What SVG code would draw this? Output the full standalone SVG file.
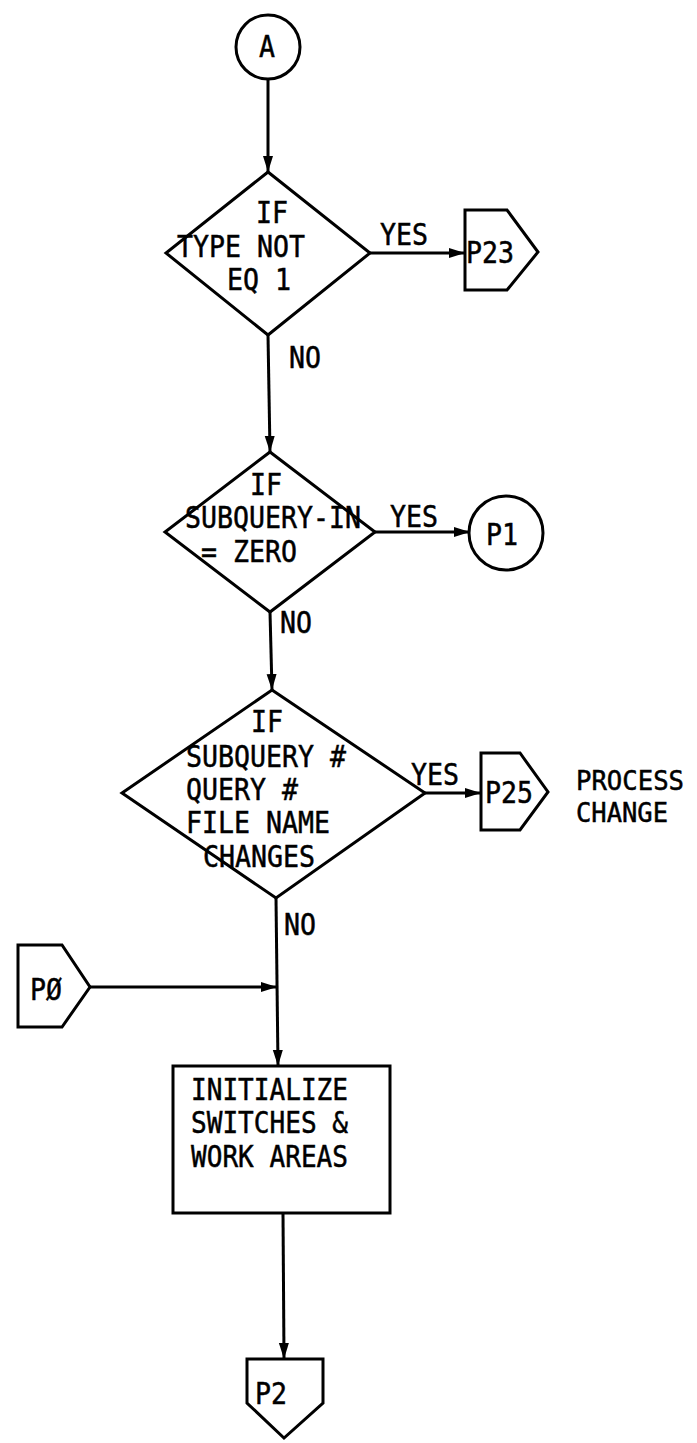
<svg xmlns="http://www.w3.org/2000/svg" width="697" height="1443" viewBox="0 0 697 1443">
<defs>
<marker id="arr" markerUnits="userSpaceOnUse" markerWidth="18" markerHeight="12" refX="16" refY="6" orient="auto">
<path d="M0,1 L16,6 L0,11 z" fill="#000"/>
</marker>
<style>
.s{fill:none;stroke:#000;stroke-width:3;stroke-linejoin:miter}
.c{fill:none;stroke:#000;stroke-width:3}
.t{font-family:"DejaVu Sans Mono","Liberation Mono",monospace;font-size:30px;fill:#000;stroke:#000;stroke-width:0.5}
.n{font-size:27px}
</style>
</defs>
<rect width="697" height="1443" fill="#fff"/>
<g id="connectors">
<line class="c" x1="268" y1="79" x2="268" y2="172" marker-end="url(#arr)"/>
<line class="c" x1="370" y1="253" x2="465" y2="253" marker-end="url(#arr)"/>
<line class="c" x1="268" y1="335" x2="270" y2="452" marker-end="url(#arr)"/>
<line class="c" x1="375" y1="532" x2="470" y2="532" marker-end="url(#arr)"/>
<line class="c" x1="270" y1="612" x2="272" y2="690" marker-end="url(#arr)"/>
<line class="c" x1="425" y1="793" x2="481" y2="793" marker-end="url(#arr)"/>
<line class="c" x1="276" y1="898" x2="278" y2="1066" marker-end="url(#arr)"/>
<line class="c" x1="90" y1="987" x2="277" y2="987" marker-end="url(#arr)"/>
<line class="c" x1="283" y1="1213" x2="284" y2="1359" marker-end="url(#arr)"/>
<text class="t" x="380" y="245" textLength="48" lengthAdjust="spacingAndGlyphs">YES</text>
<text class="t" x="289" y="368" textLength="32" lengthAdjust="spacingAndGlyphs">NO</text>
<text class="t" x="390" y="527" textLength="48" lengthAdjust="spacingAndGlyphs">YES</text>
<text class="t" x="280" y="633" textLength="32" lengthAdjust="spacingAndGlyphs">NO</text>
<text class="t" x="411" y="785" textLength="48" lengthAdjust="spacingAndGlyphs">YES</text>
<text class="t" x="284" y="935" textLength="32" lengthAdjust="spacingAndGlyphs">NO</text>
</g>
<g id="nodeA">
<circle class="s" cx="268" cy="47" r="32"/>
<text class="t" x="259" y="57" textLength="16" lengthAdjust="spacingAndGlyphs">A</text>
</g>
<g id="decision1">
<polygon class="s" points="268,172 370,253 268,335 166,253"/>
<text class="t" x="256" y="223" textLength="32" lengthAdjust="spacingAndGlyphs">IF</text>
<text class="t" x="177" y="257" textLength="128" lengthAdjust="spacingAndGlyphs">TYPE NOT</text>
<text class="t" x="227" y="290" textLength="64" lengthAdjust="spacingAndGlyphs">EQ 1</text>
</g>
<g id="P23">
<polygon class="s" points="465,210 507,210 538,252 507,290 465,290"/>
<text class="t" x="466" y="263" textLength="48" lengthAdjust="spacingAndGlyphs">P23</text>
</g>
<g id="decision2">
<polygon class="s" points="270,452 375,532 270,612 165,532"/>
<text class="t" x="250" y="495" textLength="32" lengthAdjust="spacingAndGlyphs">IF</text>
<text class="t" x="185" y="528" textLength="176" lengthAdjust="spacingAndGlyphs">SUBQUERY-IN</text>
<text class="t" x="201" y="562" textLength="96" lengthAdjust="spacingAndGlyphs">= ZERO</text>
</g>
<g id="P1">
<circle class="s" cx="506" cy="533" r="37"/>
<text class="t" x="486" y="545" textLength="32" lengthAdjust="spacingAndGlyphs">P1</text>
</g>
<g id="decision3">
<polygon class="s" points="272,690 425,793 276,898 122,793"/>
<text class="t" x="251" y="732" textLength="32" lengthAdjust="spacingAndGlyphs">IF</text>
<text class="t" x="186" y="767" textLength="160" lengthAdjust="spacingAndGlyphs">SUBQUERY #</text>
<text class="t" x="186" y="800" textLength="112" lengthAdjust="spacingAndGlyphs">QUERY #</text>
<text class="t" x="186" y="833" textLength="144" lengthAdjust="spacingAndGlyphs">FILE NAME</text>
<text class="t" x="203" y="867" textLength="112" lengthAdjust="spacingAndGlyphs">CHANGES</text>
</g>
<g id="P25">
<polygon class="s" points="481,753 520,753 548,792 520,830 481,830"/>
<text class="t" x="485" y="803" textLength="48" lengthAdjust="spacingAndGlyphs">P25</text>
<text class="t n" x="576" y="790" textLength="108" lengthAdjust="spacingAndGlyphs">PROCESS</text>
<text class="t n" x="576" y="822" textLength="92" lengthAdjust="spacingAndGlyphs">CHANGE</text>
</g>
<g id="P0">
<polygon class="s" points="18,945 62,945 90,987 62,1027 18,1027"/>
<text class="t" x="30" y="1000" textLength="32" lengthAdjust="spacingAndGlyphs">PØ</text>
</g>
<g id="init">
<rect class="s" x="173" y="1066" width="217" height="147"/>
<text class="t" x="191" y="1100" textLength="157" lengthAdjust="spacingAndGlyphs">INITIALIZE</text>
<text class="t" x="191" y="1133" textLength="157" lengthAdjust="spacingAndGlyphs">SWITCHES &amp;</text>
<text class="t" x="191" y="1167" textLength="157" lengthAdjust="spacingAndGlyphs">WORK AREAS</text>
</g>
<g id="P2">
<polygon class="s" points="247,1359 323,1359 323,1403 284,1438 247,1403"/>
<text class="t" x="255" y="1404" textLength="32" lengthAdjust="spacingAndGlyphs">P2</text>
</g>
</svg>
